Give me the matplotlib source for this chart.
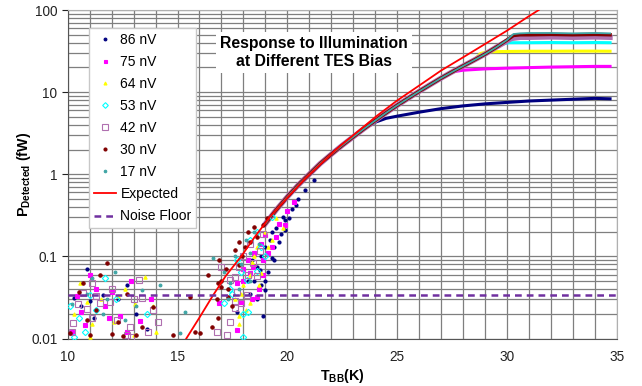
import matplotlib
matplotlib.use('Agg')
import matplotlib.pyplot as plt
from matplotlib.ticker import FixedLocator, FixedFormatter, NullFormatter

plt.rcParams['font.family'] = ['Liberation Sans', 'DejaVu Sans']
plt.rcParams['mathtext.fontset'] = 'custom'
plt.rcParams['mathtext.rm'] = 'Liberation Sans'
plt.rcParams['mathtext.bf'] = 'Liberation Sans:bold'

# Expected blackbody response (K, fW)
t_expected = [15.4, 16.0, 16.6, 17.2, 17.9, 18.5, 19.2, 20.0, 20.8, 21.6, 22.4,
              23.2, 24.1, 25.0, 26.0, 27.0, 28.0, 29.0, 30.0, 31.0, 31.45]
p_expected = [0.010, 0.018, 0.033, 0.058, 0.10, 0.17, 0.30, 0.52, 0.88, 1.4, 2.2,
              3.3, 5.2, 7.9, 12.0, 18.3, 26.5, 38.5, 56.0, 84.0, 100.0]

noise_floor = 0.034

# Common rising part of the measured response
t_rise = [19.0, 19.5, 20.0, 20.5, 21.0, 21.5, 22.0, 22.5, 23.0, 23.5, 24.0, 24.5,
          25.0, 25.5, 26.0, 26.5, 27.0, 27.5, 28.0, 28.5, 29.0, 29.5, 30.0]
p_rise = [0.25, 0.37, 0.53, 0.74, 1.0, 1.35, 1.75, 2.25, 2.85, 3.6, 4.5, 5.6,
          6.9, 8.4, 10.2, 12.3, 14.8, 17.6, 20.8, 24.5, 29.0, 35.0, 43.0]

labels = ['86 nV', '75 nV', '64 nV', '53 nV', '42 nV', '30 nV', '17 nV']

# number of t_rise points each bias follows before it saturates
n_rise = [9, 17, 20, 21, 22, 23, 23]

# saturated part of each trace
t_sat = [
    [23.5, 24.0, 24.5, 25.0, 26.0, 27.0, 28.0, 29.0, 30.0, 31.0, 32.0, 33.0, 34.0, 34.7],
    [27.5, 28.0, 29.0, 30.0, 31.0, 32.0, 33.0, 34.0, 34.7],
    [28.8, 29.1, 30.0, 31.0, 32.0, 33.0, 34.0, 34.7],
    [29.7, 30.1, 31.0, 32.0, 33.0, 34.0, 34.7],
    [30.2, 30.6, 31.0, 32.0, 33.0, 34.0, 34.7],
    [30.3, 30.6, 31.0, 32.0, 33.0, 34.0, 34.7],
    [30.3, 30.6, 31.0, 32.0, 33.0, 34.0, 34.7],
]
p_sat = [
    [3.6, 4.3, 4.8, 5.1, 5.7, 6.3, 6.8, 7.2, 7.5, 7.8, 8.0, 8.2, 8.4, 8.3],
    [17.6, 18.5, 19.2, 19.6, 19.9, 20.2, 20.4, 20.6, 20.6],
    [29.5, 31.0, 31.3, 31.5, 31.5, 31.6, 31.6, 31.5],
    [38.0, 40.0, 40.0, 40.2, 40.0, 40.2, 40.0],
    [45.0, 46.5, 46.5, 47.0, 46.5, 47.0, 46.5],
    [49.0, 50.0, 50.0, 50.5, 50.0, 50.5, 50.0],
    [51.0, 52.0, 52.5, 52.5, 52.0, 52.5, 52.0],
]

# scattered points near the noise floor and on the rising edge
t_scatter = [
    [10.3, 10.9, 11.0, 11.2, 11.6, 12.3, 13.1, 12.7, 10.6, 13.6, 17.7, 18.9, 18.2,
     18.3, 18.5, 18.6, 18.8, 18.8, 19.0, 19.1, 19.2, 19.3, 19.4, 19.3, 19.4, 19.7,
     19.9, 20.1, 18.98, 18.76, 19.5, 19.8, 20.2, 20.5, 20.8, 19.6, 19.9, 20.4,
     21.2, 18.6, 18.4, 19.0],
    [10.2, 10.8, 11.0, 11.3, 12.0, 12.4, 12.9, 13.3, 13.8, 10.4, 11.7, 17.7, 16.9,
     17.7, 18.3, 18.7, 18.6, 19.5, 19.3, 19.9, 18.45, 18.9, 18.2, 19.1, 18.0,
     18.0, 18.5, 18.8, 19.0, 19.6, 20.0, 20.3, 18.9, 17.9, 18.4, 11.9, 12.7, 10.6],
    [10.56, 11.0, 11.1, 12.1, 13.06, 13.5, 12.6, 10.3, 17.8, 17.8, 14.0, 11.5,
     17.9, 18.3, 18.7, 19.1, 18.8, 18.3, 18.0, 19.3, 19.8, 18.5, 18.6, 19.0, 19.5,
     18.4, 17.6, 18.1, 10.9, 12.3, 13.0, 13.9],
    [10.3, 10.5, 11.0, 11.7, 10.1, 18.0, 18.0, 11.3, 18.2, 17.4, 18.15, 17.1,
     18.6, 19.0, 17.9, 18.8, 17.7, 18.3, 18.6, 19.3, 17.5, 12.2, 13.6, 10.8],
    [10.48, 10.86, 10.26, 11.1, 11.47, 12.23, 12.84, 12.68, 13.37, 13.67, 14.13,
     11.93, 12.9, 16.78, 17.24, 17.4, 17.62, 13.26, 11.1, 10.7, 11.3, 17.0, 17.4,
     17.6, 17.7, 17.9, 18.15, 17.6, 18.45, 18.6, 18.75, 18.0, 18.3, 18.9, 17.8,
     18.2, 12.0, 13.0, 13.9, 10.2],
    [10.1, 10.86, 11.0, 12.0, 12.5, 13.1, 13.9, 14.81, 15.57, 15.8, 16.03, 16.56,
     16.86, 17.0, 17.3, 16.8, 11.78, 11.47, 10.71, 10.5, 12.7, 16.86, 17.0, 17.92,
     18.07, 19.06, 18.9, 17.8, 17.3, 17.5, 18.3, 18.6, 17.6, 17.8, 18.2, 18.5,
     17.2, 16.9, 16.4, 11.3, 12.3, 13.4],
    [10.2, 15.35, 15.1, 12.6, 13.4, 12.15, 11.1, 10.9, 11.6, 16.63, 17.1, 17.4,
     17.9, 18.3, 17.3, 18.7, 17.6, 18.1, 18.5, 17.8, 18.3, 11.8, 13.1, 14.2],
]
p_scatter = [
    [0.031, 0.071, 0.029, 0.018, 0.034, 0.030, 0.020, 0.045, 0.025, 0.013, 0.021,
     0.019, 0.050, 0.035, 0.050, 0.075, 0.045, 0.100, 0.130, 0.065, 0.160, 0.200,
     0.090, 0.096, 0.130, 0.190, 0.280, 0.290, 0.039, 0.068, 0.22, 0.30, 0.38,
     0.50, 0.65, 0.15, 0.21, 0.42, 0.85, 0.030, 0.090, 0.050],
    [0.012, 0.0145, 0.059, 0.040, 0.037, 0.019, 0.050, 0.0165, 0.030, 0.033,
     0.025, 0.0127, 0.027, 0.048, 0.062, 0.040, 0.032, 0.17, 0.13, 0.24, 0.075,
     0.090, 0.090, 0.110, 0.070, 0.050, 0.110, 0.140, 0.180, 0.250, 0.360, 0.460,
     0.060, 0.028, 0.030, 0.018, 0.012, 0.021],
    [0.047, 0.0105, 0.015, 0.016, 0.026, 0.056, 0.040, 0.020, 0.015, 0.019, 0.012,
     0.030, 0.035, 0.027, 0.045, 0.130, 0.063, 0.060, 0.045, 0.160, 0.220, 0.100,
     0.130, 0.200, 0.290, 0.085, 0.030, 0.022, 0.028, 0.033, 0.011, 0.025],
    [0.0103, 0.018, 0.034, 0.055, 0.025, 0.020, 0.0103, 0.022, 0.021, 0.040,
     0.052, 0.027, 0.066, 0.100, 0.065, 0.130, 0.090, 0.160, 0.200, 0.300, 0.035,
     0.030, 0.020, 0.012],
    [0.026, 0.0227, 0.0153, 0.0176, 0.0273, 0.0168, 0.0139, 0.011, 0.031, 0.012,
     0.016, 0.028, 0.0105, 0.012, 0.011, 0.016, 0.0234, 0.052, 0.047, 0.036,
     0.033, 0.074, 0.052, 0.056, 0.037, 0.027, 0.034, 0.029, 0.082, 0.058, 0.116,
     0.100, 0.140, 0.190, 0.075, 0.060, 0.040, 0.030, 0.022, 0.012],
    [0.0116, 0.0168, 0.011, 0.0114, 0.0107, 0.011, 0.024, 0.011, 0.032, 0.012,
     0.0118, 0.014, 0.018, 0.043, 0.040, 0.030, 0.084, 0.059, 0.047, 0.037, 0.035,
     0.047, 0.050, 0.100, 0.130, 0.290, 0.240, 0.078, 0.032, 0.025, 0.150, 0.170,
     0.120, 0.150, 0.200, 0.230, 0.070, 0.090, 0.060, 0.022, 0.016, 0.014],
    [0.026, 0.021, 0.0118, 0.0168, 0.039, 0.064, 0.055, 0.035, 0.020, 0.095,
     0.065, 0.048, 0.080, 0.110, 0.030, 0.140, 0.100, 0.160, 0.200, 0.040, 0.050,
     0.030, 0.025, 0.045],
]

colors = ['#000080', '#FF00FF', '#FFFF00', '#00FFFF', '#B070B0', '#800000', '#3FA5A5']
markers = ['o', 's', '^', 'D', 's', 'o', 'o']
msizes = [2.2, 2.4, 2.4, 3.2, 4.2, 2.4, 2.0]
hollow = [False, False, False, True, True, False, False]
trace_widths = [2.2, 2.2, 2.2, 2.2, 3.8, 2.5, 1.3]

fig = plt.figure(figsize=(6.42, 3.86), dpi=100)
ax = fig.add_axes([0.1055, 0.123, 0.855, 0.851])
ax.set_yscale('log')
ax.set_xlim(10, 35)
ax.set_ylim(0.01, 100)

# gridlines: every kelvin, every log minor step
ax.xaxis.set_major_locator(FixedLocator(range(10, 36, 5)))
ax.xaxis.set_minor_locator(FixedLocator(range(10, 36)))
ax.yaxis.set_major_locator(FixedLocator([0.01, 0.1, 1, 10, 100]))
ax.yaxis.set_major_formatter(FixedFormatter(['0.01', '0.1', '1', '10', '100']))
minor_y = [m * 10.0 ** e for e in range(-2, 2) for m in range(2, 10)]
ax.yaxis.set_minor_locator(FixedLocator(minor_y))
ax.yaxis.set_minor_formatter(NullFormatter())
ax.grid(which='both', axis='both', color='#7f7f7f', linewidth=0.9)
ax.set_axisbelow(True)
ax.tick_params(which='minor', length=0)
ax.tick_params(which='major', length=4, width=0.8, labelsize=9.8, colors='#222222')
ax.tick_params(axis='x', which='major', length=0, pad=8)
for side in ['top', 'right']:
    ax.spines[side].set_color('#b0b0b0')
for side in ['left', 'bottom']:
    ax.spines[side].set_color('#555555')

# measured traces for each bias
for i in range(len(labels)):
    k = n_rise[i]
    tt = t_rise[:k] + t_sat[i]
    pp = p_rise[:k] + p_sat[i]
    ax.plot(tt, pp, '-', color=colors[i], linewidth=trace_widths[i], zorder=3)

for i in range(len(labels)):
    face = 'none' if hollow[i] else colors[i]
    ax.plot(t_scatter[i], p_scatter[i], linestyle='none', marker=markers[i],
            markersize=msizes[i], markerfacecolor=face, markeredgecolor=colors[i],
            markeredgewidth=0.8, label=labels[i], zorder=3)

ax.plot(t_expected, p_expected, '-', color='#FF0000', linewidth=1.3,
        label='Expected', zorder=4)
ax.plot([10, 35], [noise_floor, noise_floor], color='#7030A0', linewidth=1.8,
        dashes=(2.7, 2.0), label='Noise Floor', zorder=4)

ax.text(0.4486, 0.8706, 'Response to Illumination\nat Different TES Bias',
        transform=ax.transAxes, ha='center', va='center', fontsize=11.3,
        fontweight='bold', linespacing=1.2, zorder=5,
        bbox=dict(facecolor='white', edgecolor='none', pad=3))

leg = ax.legend(loc='upper left', bbox_to_anchor=(0.039, 0.945), fontsize=10,
                frameon=True, fancybox=False, framealpha=1, edgecolor='#c8c8c8',
                borderaxespad=0, labelspacing=0.58, handlelength=1.6,
                handletextpad=0.3, borderpad=0.35, markerscale=0.9)
leg.set_zorder(6)

ax.set_xlabel(r'T$_{\mathbf{BB}}$(K)', fontsize=10.3, fontweight='bold')
ax.set_ylabel(r'P$_{\mathbf{Detected}}$ (fW)', fontsize=10.3, fontweight='bold')
ax.xaxis.set_label_coords(0.5, -0.087)
ax.yaxis.set_label_coords(-0.063, 0.5)

fig.savefig('out.png', dpi=100, facecolor='white')
